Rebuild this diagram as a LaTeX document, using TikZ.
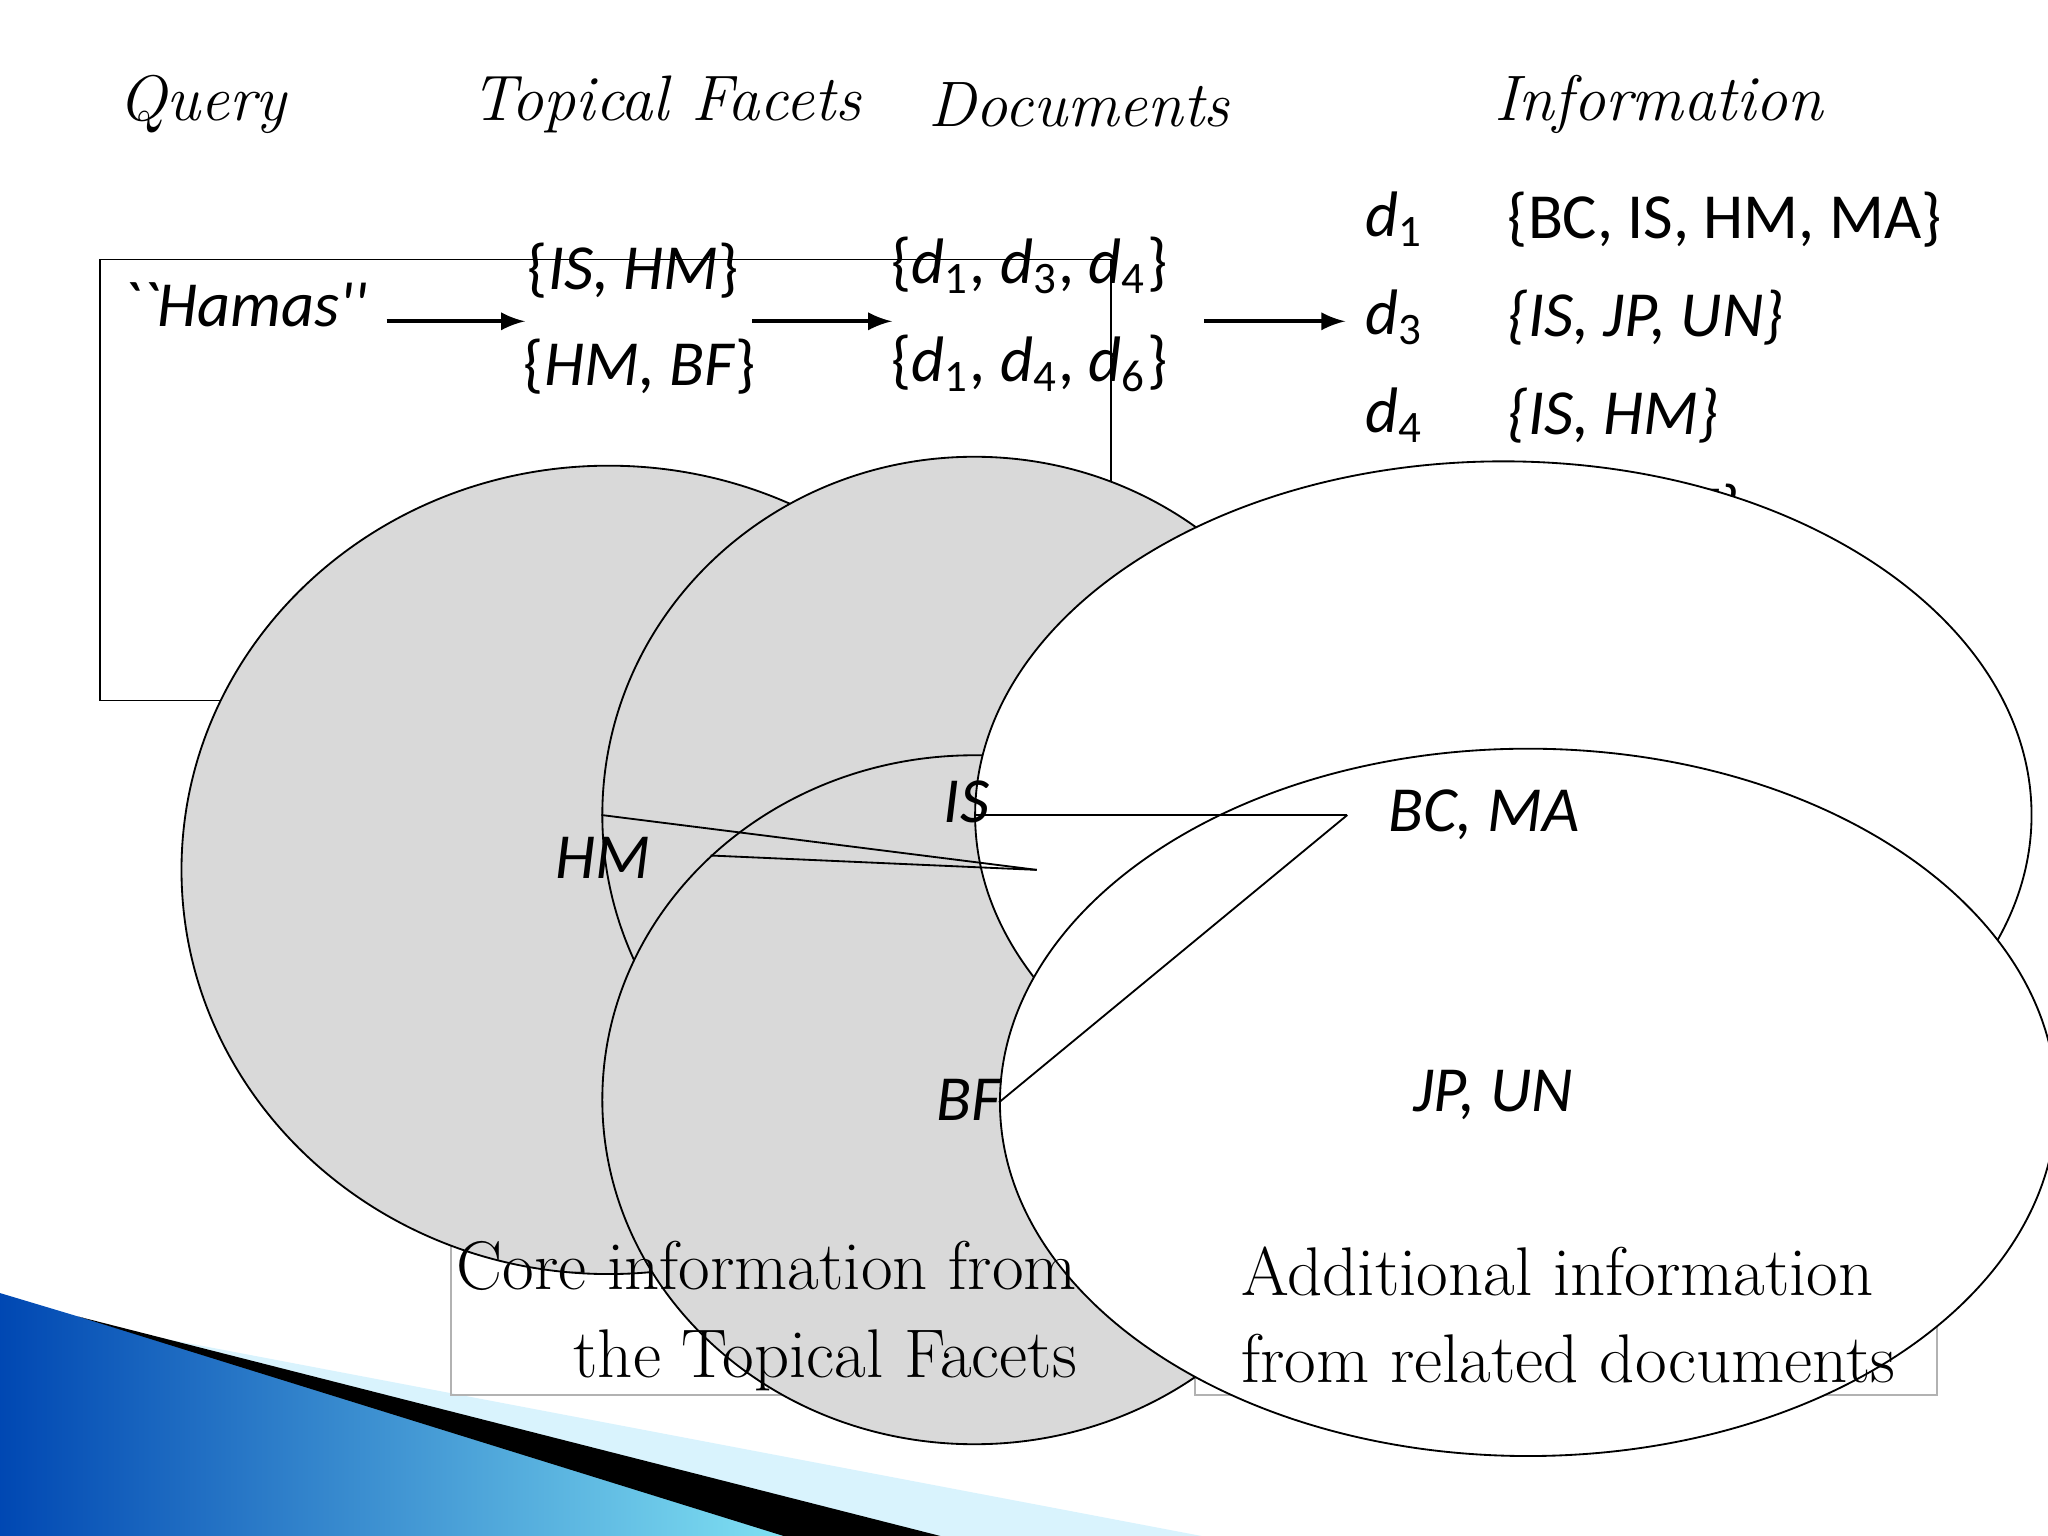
\documentclass[tikz,border=0pt]{standalone}
\usepackage{fontspec}
\usetikzlibrary{shapes.geometric}
\newfontfamily\calfont{Carlito}
\begin{document}
\begin{tikzpicture}[x=0.01cm,y=-0.01cm,
 hdr/.style={font=\fontsize{14}{16}\selectfont\itshape},
 sf/.style={font=\fontsize{14}{16}\selectfont\calfont},
 sfi/.style={font=\fontsize{14}{16}\selectfont\calfont\itshape},
 arr/.style={-latex,thick},
 gnode/.style={ellipse,draw,fill=gray!30,inner sep=0pt},
 wnode/.style={ellipse,draw,fill=white,inner sep=0pt},
 panel/.style={draw=gray!60,thin},
 captxt/.style={font=\fontsize{15}{19}\selectfont}]
\useasboundingbox (0,0) rectangle (1568,1176);
% swoosh
\shade[left color=blue!60!cyan!70!black,right color=cyan!40] (0,990) -- (100,1020) -- (720,1176) -- (0,1176) -- cycle;
\fill[cyan!15] (100,1020) -- (920,1176) -- (720,1176) -- cycle;
\fill[black] (60,1008) -- (720,1176) -- (600,1176) -- cycle;
% headers
\node[hdr] (hq) at (155,80) {Query};
\node[hdr] (ht) at (510,80) {Topical Facets};
\node[hdr] (hd) at (826,80) {Documents};
\node[hdr] (hi) at (1270,80) {Information};
% row
\node[draw,minimum width=220,minimum height=96,anchor=north west,inner sep=0pt] (q) at (76,198) {};
\node[sfi] (qt) at (187,233) {``Hamas''};
\node[sf] (f1) at (485,207) {\{\textit{IS, HM}\}};
\node[sf] (f2) at (490,281) {\{\textit{HM, BF}\}};
\node[sf] (d1) at (788,203) {\{\textit{d}\textsubscript{1}, \textit{d}\textsubscript{3}, \textit{d}\textsubscript{4}\}};
\node[sf] (d2) at (788,278) {\{\textit{d}\textsubscript{1}, \textit{d}\textsubscript{4}, \textit{d}\textsubscript{6}\}};
\coordinate (a1s) at (296,246); \coordinate (a1e) at (402,246);
\coordinate (a2s) at (576,246); \coordinate (a2e) at (683,246);
\coordinate (a3s) at (922,246); \coordinate (a3e) at (1030,246);
\draw[arr] (a1s) -- (a1e);
\draw[arr] (a2s) -- (a2e);
\draw[arr] (a3s) -- (a3e);
\node[sf] (i1) at (1068,168) {\textit{d}\textsubscript{1}};
\node[sf] (i3) at (1068,243) {\textit{d}\textsubscript{3}};
\node[sf] (i4) at (1068,318) {\textit{d}\textsubscript{4}};
\node[sf] (i6) at (1068,392) {\textit{d}\textsubscript{6}};
\node[sf,anchor=west] (s1) at (1142,168) {\{BC, IS, HM, MA\}};
\node[sfi,anchor=west] (s3) at (1142,243) {\{IS, JP, UN\}};
\node[sfi,anchor=west] (s4) at (1142,318) {\{IS, HM\}};
\node[sfi,anchor=west] (s6) at (1142,392) {\{HM, BF\}};
% panels
\draw[panel] (345,487) rectangle (873,1068);
\draw[panel] (915,487) rectangle (1483,1068);
\node[gnode,minimum width=186,minimum height=176] (hm) at (466,666) {};
\node[gnode,minimum width=162,minimum height=156] (is) at (746,624) {};
\node[gnode,minimum width=162,minimum height=150] (bf) at (746,842) {};
\node[wnode,minimum width=230,minimum height=154] (bc) at (1151,624) {};
\node[wnode,minimum width=230,minimum height=154] (jp) at (1170,844) {};
\node[sfi] at (462,657) {HM};
\node[sfi] at (740,614) {IS};
\node[sfi] at (742,842) {BF};
\node[sfi] at (1136,624) {BC, MA};
\node[sfi] at (1143,838) {JP, UN};
\draw (hm.east) -- (is.west);
\draw (hm.east) -- (bf.north west);
\draw (is.east) -- (bc.west);
\draw (is.east) -- (jp.west);
\node[captxt,align=right,anchor=north east] (c1) at (837,938) {Core information from\\the Topical Facets};
\node[captxt,align=left,anchor=north west] (c2) at (938,942) {Additional information\\from related documents};
\end{tikzpicture}
\end{document}
